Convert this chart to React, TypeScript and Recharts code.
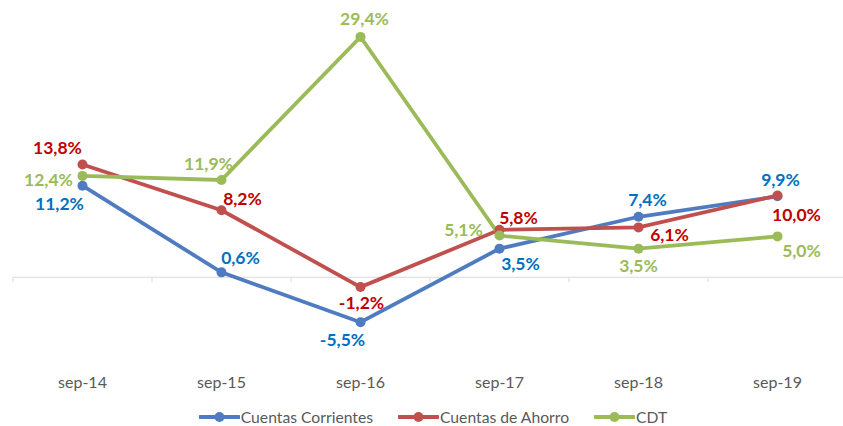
import { ComposedChart, Line, XAxis, YAxis, Legend, LabelList, ReferenceLine } from "recharts";

const categories = ["sep-14", "sep-15", "sep-16", "sep-17", "sep-18", "sep-19"];
const corrientes = [11.2, 0.6, -5.5, 3.5, 7.4, 9.9];
const ahorro = [13.8, 8.2, -1.2, 5.8, 6.1, 10.0];
const cdt = [12.4, 11.9, 29.4, 5.1, 3.5, 5.0];

// label offsets (dx, dy) from each point, like the hand-placed Excel labels
const corrientesOffsets = [[-23, 18], [19, -15], [-18, 17], [21, 15], [9, -17], [3, -17]];
const ahorroOffsets = [[-25, -17], [21, -12], [1, 15], [19, -12], [31, 7], [19, 19]];
const cdtOffsets = [[-34, 4], [-13, -16], [4, -18], [-36, -6], [0, 17], [24, 14]];

const data = categories.map((c, i) => ({
	name: c,
	corrientes: corrientes[i],
	ahorro: ahorro[i],
	cdt: cdt[i],
}));

const font = "Lato, 'Open Sans', sans-serif";

const fmt = (v: number) => v.toFixed(1).replace(".", ",") + "%";

const makeLabel = (offsets: number[][], color: string) => (props: any) => {
	const { x, y, value, index } = props;
	const [dx, dy] = offsets[index] ?? [0, 0];
	return (
		<text
			x={x + dx}
			y={y + dy}
			textAnchor="middle"
			dominantBaseline="central"
			fill={color}
			fontFamily={font}
			fontWeight={700}
			fontSize={17.5}
		>
			{fmt(value)}
		</text>
	);
};

const ZeroLine = (props: any) => {
	const { x1, x2, y1 } = props;
	const step = (x2 - x1) / categories.length;
	return (
		<g>
			<line x1={x1} x2={x2} y1={y1} y2={y1} stroke="#d9d9d9" strokeWidth={1} />
			{categories.map((_, i) => (
				<line key={i} x1={x1 + i * step} x2={x1 + i * step} y1={y1} y2={y1 + 5} stroke="#d9d9d9" strokeWidth={1} />
			))}
			<line x1={x2} x2={x2} y1={y1} y2={y1 + 5} stroke="#d9d9d9" strokeWidth={1} />
		</g>
	);
};

const series = [
	{ key: "corrientes", name: "Cuentas Corrientes", color: "#4F7CC0" },
	{ key: "ahorro", name: "Cuentas de Ahorro", color: "#C0504D" },
	{ key: "cdt", name: "CDT", color: "#9BBB59" },
];

const CustomLegend = () => (
	<div style={{ height: 30, display: "flex", alignItems: "flex-end", justifyContent: "center", gap: 25, paddingLeft: 6, fontFamily: font, fontSize: 15.7, color: "#595959" }}>
		{series.map((s) => (
			<div key={s.key} style={{ display: "flex", alignItems: "center" }}>
				<svg width={41} height={12} style={{ marginRight: 1 }}>
					<line x1={1} x2={40} y1={6} y2={6} stroke={s.color} strokeWidth={4} strokeLinecap="round" />
					<circle cx={20.5} cy={6} r={5} fill={s.color} />
				</svg>
				<span>{s.name}</span>
			</div>
		))}
	</div>
);

function App() {
	return (
		<div style={{ position: "absolute", top: 0, left: 0, width: 843, height: 426, overflow: "hidden", background: "#fff" }}>
			<ComposedChart width={850} height={426} data={data} margin={{ top: 32, right: 3, left: 13, bottom: 0 }}>
				<XAxis
					dataKey="name"
					scale="band"
					axisLine={false}
					tickLine={false}
					tickSize={0}
					tickMargin={18}
					height={37}
					interval={0}
					tick={{ fill: "#595959", fontSize: 16, fontFamily: font }}
				/>
				<YAxis hide domain={[-10, 30]} />
				<ReferenceLine y={0} shape={<ZeroLine />} />
				<Legend verticalAlign="bottom" content={<CustomLegend />} />
				<Line dataKey="corrientes" name="Cuentas Corrientes" stroke="#4F7CC0" strokeWidth={3.8} dot={{ r: 5, fill: "#4F7CC0", stroke: "none" }} isAnimationActive={false}>
					<LabelList dataKey="corrientes" content={makeLabel(corrientesOffsets, "#0070C0")} />
				</Line>
				<Line dataKey="ahorro" name="Cuentas de Ahorro" stroke="#C0504D" strokeWidth={3.8} dot={{ r: 5, fill: "#C0504D", stroke: "none" }} isAnimationActive={false}>
					<LabelList dataKey="ahorro" content={makeLabel(ahorroOffsets, "#C00000")} />
				</Line>
				<Line dataKey="cdt" name="CDT" stroke="#9BBB59" strokeWidth={3.8} dot={{ r: 5, fill: "#9BBB59", stroke: "none" }} isAnimationActive={false}>
					<LabelList dataKey="cdt" content={makeLabel(cdtOffsets, "#9BBB59")} />
				</Line>
			</ComposedChart>
		</div>
	);
}

export default App;
